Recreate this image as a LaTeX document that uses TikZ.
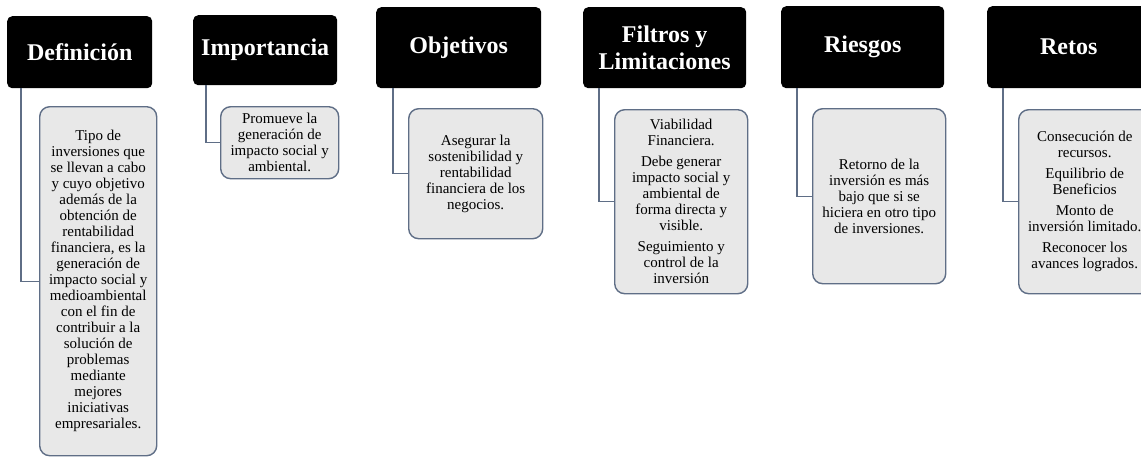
\documentclass[tikz,border=0pt]{standalone}
\usepackage{fontspec}
\setmainfont{Liberation Serif}
\usepackage{tikz}
\usetikzlibrary{positioning}
\definecolor{edgeblue}{HTML}{5F6E86}
\definecolor{itemgray}{HTML}{E8E8E8}

\begin{document}
\begin{tikzpicture}[
  x=1pt,y=-1pt,
  hdr/.style={fill=black,rounded corners=5pt,text=white,align=center,anchor=north west,
    inner sep=0pt,font=\bfseries\fontsize{24}{27}\selectfont},
  item/.style={draw=edgeblue,fill=itemgray,rounded corners=10pt,line width=1.4pt,align=center,
    anchor=north west,inner sep=0pt,font=\fontsize{15}{16}\selectfont},
  link/.style={draw=edgeblue,line width=1.3pt}
]
\clip (0,0) rectangle (1141,456);
\fill[white] (0,0) rectangle (1141,456);

% top row
\node[hdr,minimum width=145pt,minimum height=72pt] (def) at (7,16) {Definición};
\node[hdr,minimum width=144pt,minimum height=70pt] (imp) at (193,15) {Importancia};
\node[hdr,minimum width=165pt,minimum height=81pt] (obj) at (376,7) {Objetivos};
\node[hdr,minimum width=163pt,minimum height=81pt] (fil) at (583,7) {Filtros y\\Limitaciones};
\node[hdr,minimum width=163pt,minimum height=82pt] (rie) at (781,6) {Riesgos};
\node[hdr,minimum width=163pt,minimum height=82pt] (ret) at (987,6) {Retos};

% detail boxes
\node[item,minimum width=117pt,minimum height=349pt] (defx) at (39,106)
  {Tipo de\\inversiones que\\se llevan a cabo\\y cuyo objetivo\\además de la\\obtención de\\rentabilidad\\financiera, es la\\generación de\\impacto social y\\medioambiental\\con el fin de\\contribuir a la\\solución de\\problemas\\mediante\\mejores\\iniciativas\\empresariales.};
\node[item,minimum width=118pt,minimum height=72pt] (impx) at (220,106)
  {Promueve la\\generación de\\impacto social y\\ambiental.};
\node[item,minimum width=134pt,minimum height=130pt] (objx) at (408,108)
  {Asegurar la\\sostenibilidad y\\rentabilidad\\financiera de los\\negocios.};
\node[item,minimum width=133pt,minimum height=184pt] (filx) at (614,109)
  {Viabilidad\\Financiera.\\[5pt]Debe generar\\impacto social y\\ambiental de\\forma directa y\\visible.\\[5pt]Seguimiento y\\control de la\\inversión};
\node[item,minimum width=133pt,minimum height=175pt] (riex) at (812,108)
  {Retorno de la\\inversión es más\\bajo que si se\\hiciera en otro tipo\\de inversiones.};
\node[item,minimum width=132pt,minimum height=184pt] (retx) at (1018,109)
  {Consecución de\\recursos.\\[5pt]Equilibrio de\\Beneficios\\[5pt]Monto de\\inversión limitado.\\[5pt]Reconocer los\\avances logrados.};

% elbow links
\draw[link] ([xshift=14pt]def.south west) |- (defx.west);
\draw[link] ([xshift=13pt]imp.south west) |- (impx.west);
\draw[link] ([xshift=17pt]obj.south west) |- (objx.west);
\draw[link] ([xshift=16pt]fil.south west) |- (filx.west);
\draw[link] ([xshift=16pt]rie.south west) |- (riex.west);
\draw[link] ([xshift=16pt]ret.south west) |- (retx.west);
\end{tikzpicture}
\end{document}
